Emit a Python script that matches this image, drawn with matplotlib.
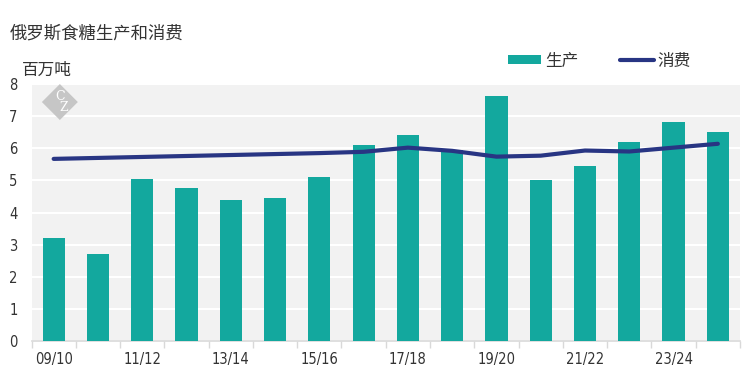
import matplotlib
matplotlib.use("Agg")
import matplotlib.pyplot as plt
from matplotlib.patches import Polygon, Patch
from matplotlib.lines import Line2D
import numpy as np

plt.rcParams['font.family'] = ['Noto Sans CJK SC', 'DejaVu Sans']

seasons = ["09/10", "10/11", "11/12", "12/13", "13/14", "14/15", "15/16", "16/17",
           "17/18", "18/19", "19/20", "20/21", "21/22", "22/23", "23/24", "24/25"]
production = [3.2, 2.7, 5.03, 4.76, 4.38, 4.44, 5.1, 6.1,
              6.42, 5.95, 7.62, 5.0, 5.45, 6.2, 6.82, 6.5]
consumption = [5.67, 5.70, 5.73, 5.76, 5.79, 5.82, 5.85, 5.89,
               6.02, 5.92, 5.74, 5.77, 5.93, 5.90, 6.02, 6.14]
label_every = 2

teal = "#13a89e"
navy = "#283583"
text_c = "#333333"
num_font = dict(family=['DejaVu Sans'], stretch='condensed')

fig = plt.figure(figsize=(7.54, 3.82), dpi=100)
ax = fig.add_axes([0.0418, 0.1073, 0.9396, 0.6727])
ax.set_facecolor("#f2f2f2")

x = np.arange(len(seasons))
ax.bar(x, production, width=0.5, color=teal, zorder=3)
ax.plot(x, consumption, color=navy, lw=3, zorder=4, solid_capstyle='round')

ax.set_xlim(-0.5, len(seasons) - 0.5)
ax.set_ylim(0, 8)
ax.set_yticks(range(0, 9))
ax.set_yticklabels([str(v) for v in range(0, 9)], fontsize=10.5, color=text_c, **num_font)
ax.tick_params(axis='y', length=0, pad=10)
ax.grid(axis='y', color='white', lw=1.5, zorder=1)

ax.set_xticks(x[::label_every])
ax.set_xticklabels(seasons[::label_every], fontsize=10.5, color=text_c, **num_font)
ax.tick_params(axis='x', length=0, pad=8)
ax.set_xticks(np.arange(-0.5, len(seasons), 1), minor=True)
ax.tick_params(axis='x', which='minor', length=5, color="#d9d9d9", width=1)

for s in ['top', 'right', 'left']:
    ax.spines[s].set_visible(False)
ax.spines['bottom'].set_color("#d9d9d9")
ax.spines['bottom'].set_linewidth(1.2)

# watermark logo
cx, cy, rx, ry = 0.040, 0.93, 0.0254, 0.07
diamond = Polygon([(cx, cy + ry), (cx + rx, cy), (cx, cy - ry), (cx - rx, cy)],
                  closed=True, transform=ax.transAxes, facecolor="#c6c6c6",
                  edgecolor='none', zorder=2)
ax.add_patch(diamond)
ax.text(cx, cy, "C\n  Z", transform=ax.transAxes, ha='center', va='center',
        fontsize=9, color='white', family='DejaVu Serif', zorder=3, linespacing=0.75)

fig.text(0.013, 0.911, "俄罗斯食糖生产和消费", fontsize=12.5, color=text_c, va='center')
fig.text(0.029, 0.815, "百万吨", fontsize=12, color=text_c, va='center')

handles = [Patch(facecolor=teal, edgecolor='none'),
           Line2D([0], [0], color=navy, lw=3, solid_capstyle='round')]
leg = fig.legend(handles, ["生产", "消费"], loc='center', bbox_to_anchor=(0.795, 0.84),
                 ncol=2, frameon=False, fontsize=12, handlelength=2.0, handleheight=0.45,
                 columnspacing=2.5, handletextpad=0.25)
for t in leg.get_texts():
    t.set_color(text_c)

fig.savefig("out.png", dpi=100)
